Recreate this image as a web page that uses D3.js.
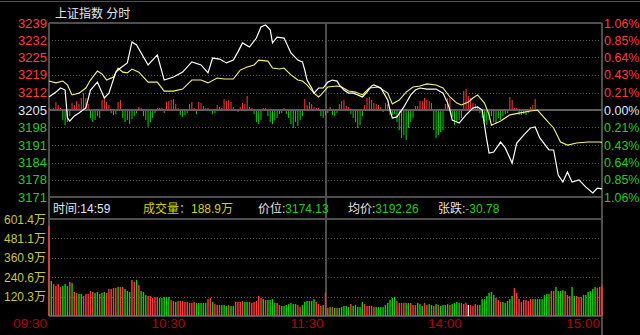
<!DOCTYPE html>
<html>
<head>
<meta charset="utf-8">
<script src="https://cdn.jsdelivr.net/npm/d3@7"></script>
<style>
  body { margin: 0; background: #000; }
  svg { display: block; font-family: "Liberation Sans", Arial, "Noto Sans CJK SC", sans-serif; }
</style>
</head>
<body>
<svg id="drawing_region"></svg>
<script>
// 上证指数 分时
const prevClose = 3204.91;
const pctLevels = [1.06, 0.85, 0.64, 0.43, 0.21, 0, -0.21, -0.43, -0.64, -0.85, -1.06];
const priceLabels = ['3239','3232','3225','3219','3212','3205','3198','3191','3184','3178','3171'];
const pctLabels = ['1.06%','0.85%','0.64%','0.43%','0.21%','0.00%','0.21%','0.43%','0.64%','0.85%','1.06%'];
const volTicks = [601.4, 481.1, 360.9, 240.6, 120.3];
const volLabels = ['601.4万','481.1万','360.9万','240.6万','120.3万'];
const timeTicks = [0, 60, 120, 180, 240];
const timeLabels = ['09:30','10:30','11:30','14:00','15:00'];

// price line (minute index from 09:30, value)
const priceMin = [0,3,5,7,8,9,11,13,16,18,21,24,26,29,31,34,36,38,43,47,
  50,54,58,62,66,69,71,74,77,80,82,84,87,90,92,94,96,97,99,102,
  103,105,108,110,111,112,114,115,117,119,121,123,125,126,128,130,132,134,136,138,
  140,141,144,147,148,149,151,154,157,159,161,164,168,171,173,174,175,178,181,184,
  186,188,189,190,191,193,196,198,201,203,206,209,211,213,217,219,221,223,225,227,
  230,233,236,238,240];
const priceVal = [3210.0,3211.9,3213.5,3212.7,3201.8,3200.6,3202.6,3203.7,3205.7,3212.7,
  3215.8,3209.6,3211.5,3219.7,3221.3,3223.3,3231.5,3230.3,3222.5,3226.4,
  3216.6,3217.8,3219.7,3223.7,3222.5,3219.4,3225.2,3224.8,3223.3,3224.4,
  3227.6,3231.1,3229.5,3233.0,3237.3,3238.1,3236.2,3231.1,3233.4,3233.0,
  3231.1,3227.2,3224.4,3223.7,3220.5,3216.6,3213.5,3211.5,3213.5,3213.5,
  3215.8,3216.6,3216.2,3214.7,3212.7,3211.5,3211.5,3210.8,3210.0,3211.9,
  3214.3,3214.7,3213.5,3208.8,3204.9,3201.8,3202.2,3206.1,3210.8,3212.7,
  3213.5,3213.1,3213.1,3211.5,3207.6,3204.9,3201.0,3199.8,3203.0,3205.7,
  3206.1,3204.9,3199.0,3193.2,3188.1,3188.5,3192.4,3190.1,3184.2,3192.0,
  3195.1,3197.9,3198.3,3194.0,3189.3,3189.3,3179.5,3176.8,3180.7,3176.8,
  3177.6,3174.8,3172.5,3174.4,3174.13];

// yellow line
const avgMin = [0,3,6,8,10,13,16,18,21,23,25,28,30,32,34,36,39,43,47,50,
  54,58,62,66,69,73,76,80,83,86,89,91,95,97,100,102,105,108,110,112,
  115,117,118,121,125,127,130,133,136,139,143,147,149,152,155,158,161,164,168,171,
  174,177,179,182,184,186,189,191,192,196,200,204,209,212,215,219,222,225,229,234,
  239,240];
const avgVal = [3216.2,3215.5,3216.2,3214.7,3210.8,3211.5,3213.5,3216.6,3220.1,3219.0,
  3216.6,3217.8,3221.3,3219.7,3219.4,3220.9,3219.7,3215.8,3215.8,3212.3,
  3212.3,3213.1,3216.6,3216.6,3215.5,3217.4,3217.0,3217.0,3220.5,3221.7,
  3222.5,3224.4,3224.0,3221.3,3220.9,3221.3,3218.6,3216.6,3216.2,3214.7,
  3211.5,3210.0,3210.8,3213.9,3214.3,3213.9,3212.3,3211.9,3210.8,3213.5,
  3213.9,3211.5,3207.3,3208.8,3211.9,3213.9,3214.3,3215.1,3214.7,3213.5,
  3210.0,3207.6,3206.9,3208.0,3209.6,3210.8,3207.6,3203.0,3199.0,3200.6,
  3203.0,3203.7,3204.5,3204.9,3201.8,3197.9,3192.4,3191.2,3192.0,3192.4,
  3192.4,3192.26];

// red / green bars around the zero line, one per minute
const breadth = [2,1,2,8,5,2,0,-10,-15,-12, -6,7,0,5,9,6,12,17,12,6,
  0,-8,-12,-10,-6,-8,10,12,8,5, -3,-5,-4,8,10,-8,-12,-10,-14,-9,
  -6,-3,0,3,2,-6,-10,-17,-12,-8, -3,2,2,2,-3,0,8,9,10,11,
  6,2,0,-5,-7,-5,-3,6,8,2, -4,8,7,4,2,2,1,-4,-3,5,
  3,2,11,9,10,8,3,1,-2,3, 7,6,14,3,2,-4,-12,-14,-10,2,
  2,-6,-12,-14,-10,-8,-4,-3,2,-4, -8,-14,-18,-12,-16,-10,-6,0,11,5,
  8,6,3,2,0,2,-6,-8,-5,-3, 0,3,0,-5,-6,-3,0,6,9,10,
  4,3,0,-4,-8,-12,-18,-15,-6,0, 0,5,12,13,10,7,6,5,3,0,
  -2,0,7,6,0,-5,-5,-4,0,0, -12,-20,-28,-25,-30,-18,-12,-8,4,4,
  9,9,12,10,9,0,7,-20,-28,-25, -22,-20,0,6,12,12,-7,-15,-12,-10,
  -8,19,21,14,12,7,6,4,0,-3, -8,-12,-15,-10,-6,-12,-14,-8,-10,-6,
  -4,-3,0,0,13,10,2,0,0,2, 0,-5,-5,-4,-5,-3,3,5,11,0, 0];

// volume per minute (万)
const volume = [558,217,198,186,198,180,186,198,186,211, 205,149,143,136,136,124,136,136,155,149,
  143,149,136,143,149,143,167,167,174,174, 180,180,180,167,155,149,223,211,223,192,
  155,149,130,124,124,112,118,118,112,112, 118,118,118,99,93,87,93,93,93,87,
  87,81,81,87,81,
  81,81,81,81,105,112,87,74,68,68, 68,68,62,68,62,62,87,87,87,93,
  87,87,87,81,87,93,124,112,105,99, 99,99,105,81,81,68,62,62,68,74,
  81,74,74,68,56,68,87,93,93,93, 105,87,74,62,68,
  143,50,56,56,50,50,50,56,62,62, 56,74,62,68,56,56,87,74,62,62,
  62,56,56,56,56,56,68,81,99,112, 118,93,81,81,81,81,81,81,68,68,
  81, 74,
  62,81,68,74,68,62,74,68,62,68, 68,74,68,74,81,87,81,81,74,81,
  68,68,62,74,68,68,105,105,124,143, 149,130,112,99,87,87,81,93,105,124,
  174,143,105,87,99,99,93,105,105,105, 105,105,105,130,136,136,155,155,180,155,
  155,161,155,130,124,180,124,124,118,118, 130,130,149,155,167,180,174,180,189];
// + up, - down, = flat
const volDir = ('+-++++---+' + '-++--+++++' + '--+--+++++' + '-++---++-+' + '---+++++--' + '---++-++++' + '++++-' +
  '----++-+++' + '---+--++++' + '--++++++-+' + '----++----' + '---++-----' + '-+++-' +
  '++-+-+----' + '-+-----+++' + '++--------' + '-++++--+++' + '-' + '-' +
  '-++--+-+--' + '--+----+++' + '=++++-----' + '--+++-----' + '+++++++++-' + '------++--' + '--+++--+++' + '------+++').split('');

const info = [
  {x: 53,  label: '时间:', value: '14:59', color: '#dfe8ff', labelColor: '#e6e6e6'},
  {x: 143, label: '成交量：', value: '188.9万', color: '#d2d200', labelColor: '#d2d200'},
  {x: 258, label: '价位:', value: '3174.13', color: '#22cc22', labelColor: '#e6e6e6'},
  {x: 348, label: '均价:', value: '3192.26', color: '#22cc22', labelColor: '#e6e6e6'},
  {x: 438, label: '张跌:', value: '-30.78', color: '#22cc22', labelColor: '#e6e6e6'}
];

const W = 640, H = 335;
const box = {left: 49, right: 602, top: 23, priceBottom: 197, volTop: 219, volBottom: 316};
const gridColor = '#5a5a5a';
const frameColor = '#4e4e4e';
const upColor = '#ff3c3c', downColor = '#00d800', downText = '#22cc22';

const svg = d3.select('#drawing_region').attr('width', W).attr('height', H);
svg.append('rect').attr('width', W).attr('height', H).attr('fill', '#000');

const x = d3.scaleLinear().domain([0, 240]).range([box.left, box.right]);
const y = d3.scaleLinear()
  .domain([prevClose * (1 - 0.0106), prevClose * (1 + 0.0106)])
  .range([box.priceBottom, box.top]);
const yB = d3.scaleLinear().domain([-87, 87]).range([box.priceBottom, box.top]);
const yVol = d3.scaleLinear().domain([0, 601.4]).range([box.volBottom, box.volTop]);
const yZero = y(prevClose);

// dotted grid
const grid = svg.append('g').attr('stroke', gridColor).attr('stroke-dasharray', '1,2')
  .attr('shape-rendering', 'crispEdges');
grid.selectAll('.pg').data(pctLevels.filter(p => p !== 0 && Math.abs(p) < 1.06)).enter()
  .append('line')
  .attr('x1', box.left).attr('x2', box.right)
  .attr('y1', p => Math.round(y(prevClose * (1 + p / 100))) + 0.5)
  .attr('y2', p => Math.round(y(prevClose * (1 + p / 100))) + 0.5);
grid.selectAll('.vg').data(volTicks.slice(1)).enter()
  .append('line')
  .attr('x1', box.left).attr('x2', box.right)
  .attr('y1', d => Math.round(yVol(d)) + 0.5)
  .attr('y2', d => Math.round(yVol(d)) + 0.5);

// frame
const frame = svg.append('g').attr('stroke', frameColor).attr('stroke-width', 1.5)
  .attr('shape-rendering', 'crispEdges').attr('fill', 'none');
frame.append('line').attr('x1', 0).attr('x2', W).attr('y1', 1.5).attr('y2', 1.5);
[box.top, box.priceBottom, box.volTop, box.volBottom].forEach(v => {
  frame.append('line').attr('x1', box.left).attr('x2', box.right).attr('y1', v).attr('y2', v);
});
frame.append('line').attr('x1', box.left).attr('x2', box.left).attr('y1', box.top).attr('y2', box.volBottom);
frame.append('line').attr('x1', box.right).attr('x2', box.right).attr('y1', box.top).attr('y2', H);
frame.append('line').attr('x1', x(120)).attr('x2', x(120)).attr('y1', box.top).attr('y2', box.volBottom)
  .attr('stroke-width', 2);

// red / green bars
svg.append('g').selectAll('rect').data(breadth).enter()
  .filter(d => d !== 0)
  .append('rect')
  .attr('x', (d, i) => x(i) - 0.5)
  .attr('width', 1)
  .attr('y', d => d > 0 ? yB(d) : yZero)
  .attr('height', d => Math.abs(yB(d) - yZero))
  .attr('fill', d => d > 0 ? upColor : downColor);

// zero line
svg.append('line').attr('x1', box.left).attr('x2', box.right)
  .attr('y1', yZero).attr('y2', yZero)
  .attr('stroke', '#5e5e5e').attr('stroke-width', 2);

// volume bars
svg.append('g').selectAll('rect').data(volume).enter()
  .append('rect')
  .attr('x', (d, i) => x(i) - 0.7)
  .attr('width', 1.4)
  .attr('y', d => yVol(d))
  .attr('height', d => box.volBottom - yVol(d))
  .attr('fill', (d, i) => volDir[i] === '+' ? upColor : volDir[i] === '-' ? downColor : '#ffffff');

// lines
const line = d3.line().x(d => x(d[0])).y(d => y(d[1]));
svg.append('path').datum(avgMin.map((m, i) => [m, avgVal[i]]))
  .attr('d', line).attr('fill', 'none').attr('stroke', '#f5f57a').attr('stroke-width', 1.1);
svg.append('path').datum(priceMin.map((m, i) => [m, priceVal[i]]))
  .attr('d', line).attr('fill', 'none').attr('stroke', '#ffffff').attr('stroke-width', 1.2);

// axis labels
const labelColor = i => i < 5 ? upColor : i === 5 ? '#dfe8ff' : downText;
svg.append('g').attr('font-size', 13).attr('text-anchor', 'end')
  .selectAll('text').data(priceLabels).enter().append('text')
  .attr('x', 47)
  .attr('y', (d, i) => y(prevClose * (1 + pctLevels[i] / 100)) + 4.6)
  .attr('fill', (d, i) => labelColor(i))
  .text(d => d);
svg.append('g').attr('font-size', 12.5)
  .selectAll('text').data(pctLabels).enter().append('text')
  .attr('x', 604)
  .attr('y', (d, i) => y(prevClose * (1 + pctLevels[i] / 100)) + 4.5)
  .attr('fill', (d, i) => labelColor(i))
  .text(d => d);
svg.append('g').attr('font-size', 12).attr('text-anchor', 'end').attr('fill', '#c8c832')
  .selectAll('text').data(volLabels).enter().append('text')
  .attr('x', 46)
  .attr('y', (d, i) => yVol(volTicks[i]) + 4.5)
  .text(d => d);
svg.append('g').attr('font-size', 13.5).attr('text-anchor', 'end').attr('fill', '#b40000')
  .selectAll('text').data(timeLabels).enter().append('text')
  .attr('x', (d, i) => x(timeTicks[i]) - 2)
  .attr('y', 328)
  .text(d => d);

// title
svg.append('text').attr('x', 55).attr('y', 17.5).attr('font-size', 12).attr('fill', '#e6e6e6')
  .text('上证指数  分时');

// info bar
const infoText = svg.append('g').attr('font-size', 12);
info.forEach(d => {
  const t = infoText.append('text').attr('x', d.x).attr('y', 213);
  t.append('tspan').attr('fill', d.labelColor).text(d.label);
  t.append('tspan').attr('fill', d.color).text(d.value);
});
</script>
</body>
</html>
